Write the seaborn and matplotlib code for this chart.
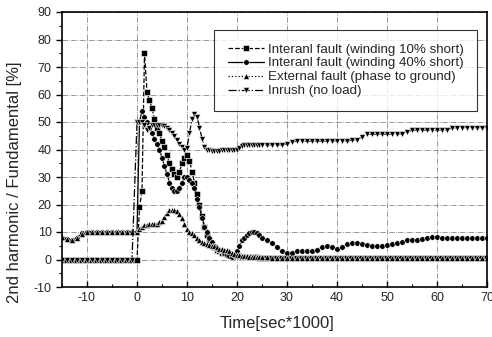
import matplotlib
matplotlib.use('Agg')
import matplotlib.pyplot as plt
import seaborn as sns
import numpy as np
from matplotlib.ticker import MultipleLocator

# time axis [sec*1000]: 1 ms steps before the fault, 0.5 ms in the transient, 1 ms after
t_pre = [-15, -14, -13, -12, -11, -10, -9, -8, -7, -6, -5, -4, -3, -2, -1]
t_mid = [0.0, 0.5, 1.0, 1.5, 2.0, 2.5, 3.0, 3.5, 4.0, 4.5, 5.0, 5.5, 6.0, 6.5, 7.0, 7.5,
         8.0, 8.5, 9.0, 9.5, 10.0, 10.5, 11.0, 11.5, 12.0, 12.5, 13.0, 13.5, 14.0, 14.5,
         15.0, 15.5, 16.0, 16.5, 17.0, 17.5, 18.0, 18.5, 19.0, 19.5, 20.0, 20.5, 21.0,
         21.5, 22.0, 22.5, 23.0, 23.5, 24.0, 24.5, 25.0]
t_post = [26, 27, 28, 29, 30, 31, 32, 33, 34, 35, 36, 37, 38, 39, 40, 41, 42, 43, 44, 45,
          46, 47, 48, 49, 50, 51, 52, 53, 54, 55, 56, 57, 58, 59, 60, 61, 62, 63, 64, 65,
          66, 67, 68, 69, 70]
time = t_pre + t_mid + t_post

# interanl fault, winding 10% short
short10 = [0, 0, 0, 0, 0, 0, 0, 0, 0, 0, 0, 0, 0, 0, 0,
           0, 19, 25, 75, 61, 58, 55, 51, 48, 46, 43, 41, 38, 35, 33, 31,
           30, 32, 35, 37, 38, 36, 32, 28, 24, 20, 16, 12, 9, 7,
           5.5, 4.5, 3.5, 3, 2.5, 2.2, 2, 1.8, 1.5, 1.3, 1.2, 1.1, 1,
           1, 0.9, 0.9, 0.8, 0.8, 0.8, 0.7, 0.7,
           0.7, 0.7, 0.7, 0.7, 0.6, 0.6, 0.6, 0.6, 0.6, 0.6, 0.6, 0.6, 0.6, 0.6, 0.6,
           0.6, 0.6, 0.6, 0.6, 0.6, 0.6, 0.6, 0.6, 0.6, 0.6, 0.6, 0.6, 0.6, 0.6, 0.6,
           0.6, 0.6, 0.6, 0.6, 0.6, 0.6, 0.6, 0.6, 0.6, 0.6, 0.6, 0.6, 0.6, 0.6, 0.6]

# interanl fault, winding 40% short
short40 = [8, 7.3, 7, 8, 9.5, 10, 10, 10, 10, 10, 10, 10, 10, 10, 10,
           10, 50, 54, 52, 50, 48, 46, 44, 42, 40, 37, 34, 31, 28, 26, 25,
           25, 26, 28, 30, 30, 29, 28, 26, 22, 19, 15, 12, 10, 8,
           6.5, 5, 4, 3.5, 3, 2.5, 1.8, 1.2, 1, 1.5, 3, 5, 7,
           8, 9, 9.5, 10, 10, 9.5, 9, 8,
           7, 6, 4.5, 3, 2.5, 2.5, 3, 3, 3, 3, 3.5, 4.5, 5, 4.5, 4,
           4.5, 5.5, 6, 6, 5.5, 5.3, 5, 5, 5, 5.2, 5.5, 6, 6.5, 7, 7,
           7.2, 7.5, 8, 8.3, 8.3, 8, 8, 7.8, 7.8, 7.8, 7.8, 7.8, 8, 8, 8]

# external fault, phase to ground
external = [8.2, 7.6, 7.2, 7.8, 9.3, 10, 10, 10, 10, 10, 10, 10, 10, 10, 10,
            10, 11, 12, 12.5, 12.5, 13, 13, 13, 13, 13.5, 14, 15.5, 17, 18, 18, 18,
            17.5, 16.5, 15, 13, 11, 10, 9.5, 9, 8, 7, 6.5, 6, 5.5, 5.3,
            5, 4.8, 4.5, 4, 3.8, 3.5, 3.3, 3, 2.5, 2, 1.7, 1.5, 1.3,
            1.2, 1.1, 1, 1, 0.9, 0.9, 0.8, 0.8,
            0.8, 0.7, 0.7, 0.7, 0.7, 0.7, 0.7, 0.7, 0.7, 0.7, 0.7, 0.7, 0.7, 0.7, 0.7,
            0.7, 0.7, 0.7, 0.7, 0.7, 0.7, 0.7, 0.7, 0.7, 0.7, 0.7, 0.7, 0.7, 0.7, 0.7,
            0.7, 0.7, 0.7, 0.7, 0.7, 0.7, 0.7, 0.7, 0.7, 0.7, 0.7, 0.7, 0.7, 0.7, 0.7]

# inrush, no load
inrush = [0, 0, 0, 0, 0, 0, 0, 0, 0, 0, 0, 0, 0, 0, 0,
          50, 50, 50, 49, 47, 48, 49, 49, 49, 49, 49, 48.5, 48, 47, 46, 45,
          43.5, 42, 41, 40, 40.5, 46, 51, 53, 52, 48, 44, 41, 40, 39.7,
          39.6, 39.6, 39.6, 39.6, 39.7, 39.7, 39.7, 39.8, 39.8, 39.8, 39.8, 40.5, 41.3,
          41.5, 41.5, 41.5, 41.5, 41.6, 41.6, 41.6, 41.6,
          41.6, 41.7, 41.7, 41.7, 42, 42.8, 43, 43, 43, 43, 43, 43, 43, 43, 43.2,
          43.2, 43.2, 43.3, 43.5, 44.5, 45.5, 45.5, 45.5, 45.5, 45.5, 45.6, 45.6, 45.7, 46.5, 47,
          47, 47, 47, 47, 47, 47.1, 47.2, 47.8, 48, 48, 48, 48, 48, 48, 48]

labels = ['Interanl fault (winding 10% short)',
          'Interanl fault (winding 40% short)',
          'External fault (phase to ground)',
          'Inrush (no load)']
series = [short10, short40, external, inrush]
markers = ['s', 'o', '^', 'v']
lines = ['--', '-', ':', '-.']

sns.set_style('ticks')
plt.rcParams['font.family'] = ['Liberation Sans', 'DejaVu Sans']
plt.rcParams['axes.unicode_minus'] = False

fig = plt.figure(figsize=(4.92, 3.37), dpi=100)
ax = fig.add_axes([62/492, 50/337, 425/492, 275/337])

for y, lab, m, ls in zip(series, labels, markers, lines):
    sns.lineplot(x=time, y=y, ax=ax, color='black', marker=m, markersize=4,
                 markeredgewidth=0.4, linestyle=ls, linewidth=0.9, label=lab,
                 sort=False, estimator=None)

ax.set_xlim(-15, 70)
ax.set_ylim(-10, 90)
ax.xaxis.set_major_locator(MultipleLocator(10))
ax.xaxis.set_minor_locator(MultipleLocator(5))
ax.yaxis.set_major_locator(MultipleLocator(10))
ax.yaxis.set_minor_locator(MultipleLocator(5))
ax.grid(True, which='major', color='#888888', linestyle='-.', linewidth=0.6)
ax.tick_params(axis='x', which='both', direction='in', labelsize=9, color='black')
ax.tick_params(axis='y', which='both', direction='out', labelsize=9, color='black')
ax.tick_params(which='major', length=4, width=1)
ax.tick_params(which='minor', length=2.5, width=0.8)
for s in ax.spines.values():
    s.set_visible(True)
    s.set_color('black')
    s.set_linewidth(1.2)

ax.set_xlabel('Time[sec*1000]', fontsize=12)
ax.set_ylabel('2nd harmonic / Fundamental [%]', fontsize=12)
ax.xaxis.set_label_coords(0.506, -0.105)
ax.yaxis.set_label_coords(-0.094, 0.38)

leg = ax.legend(loc='upper right', bbox_to_anchor=(0.976, 0.935), borderaxespad=0,
                fontsize=9.6, frameon=True, fancybox=False, handlelength=2.7,
                handletextpad=0.3, labelspacing=0.12, borderpad=1.0)
leg.get_frame().set_edgecolor('black')
leg.get_frame().set_linewidth(0.8)

fig.savefig('out.png', dpi=100)
